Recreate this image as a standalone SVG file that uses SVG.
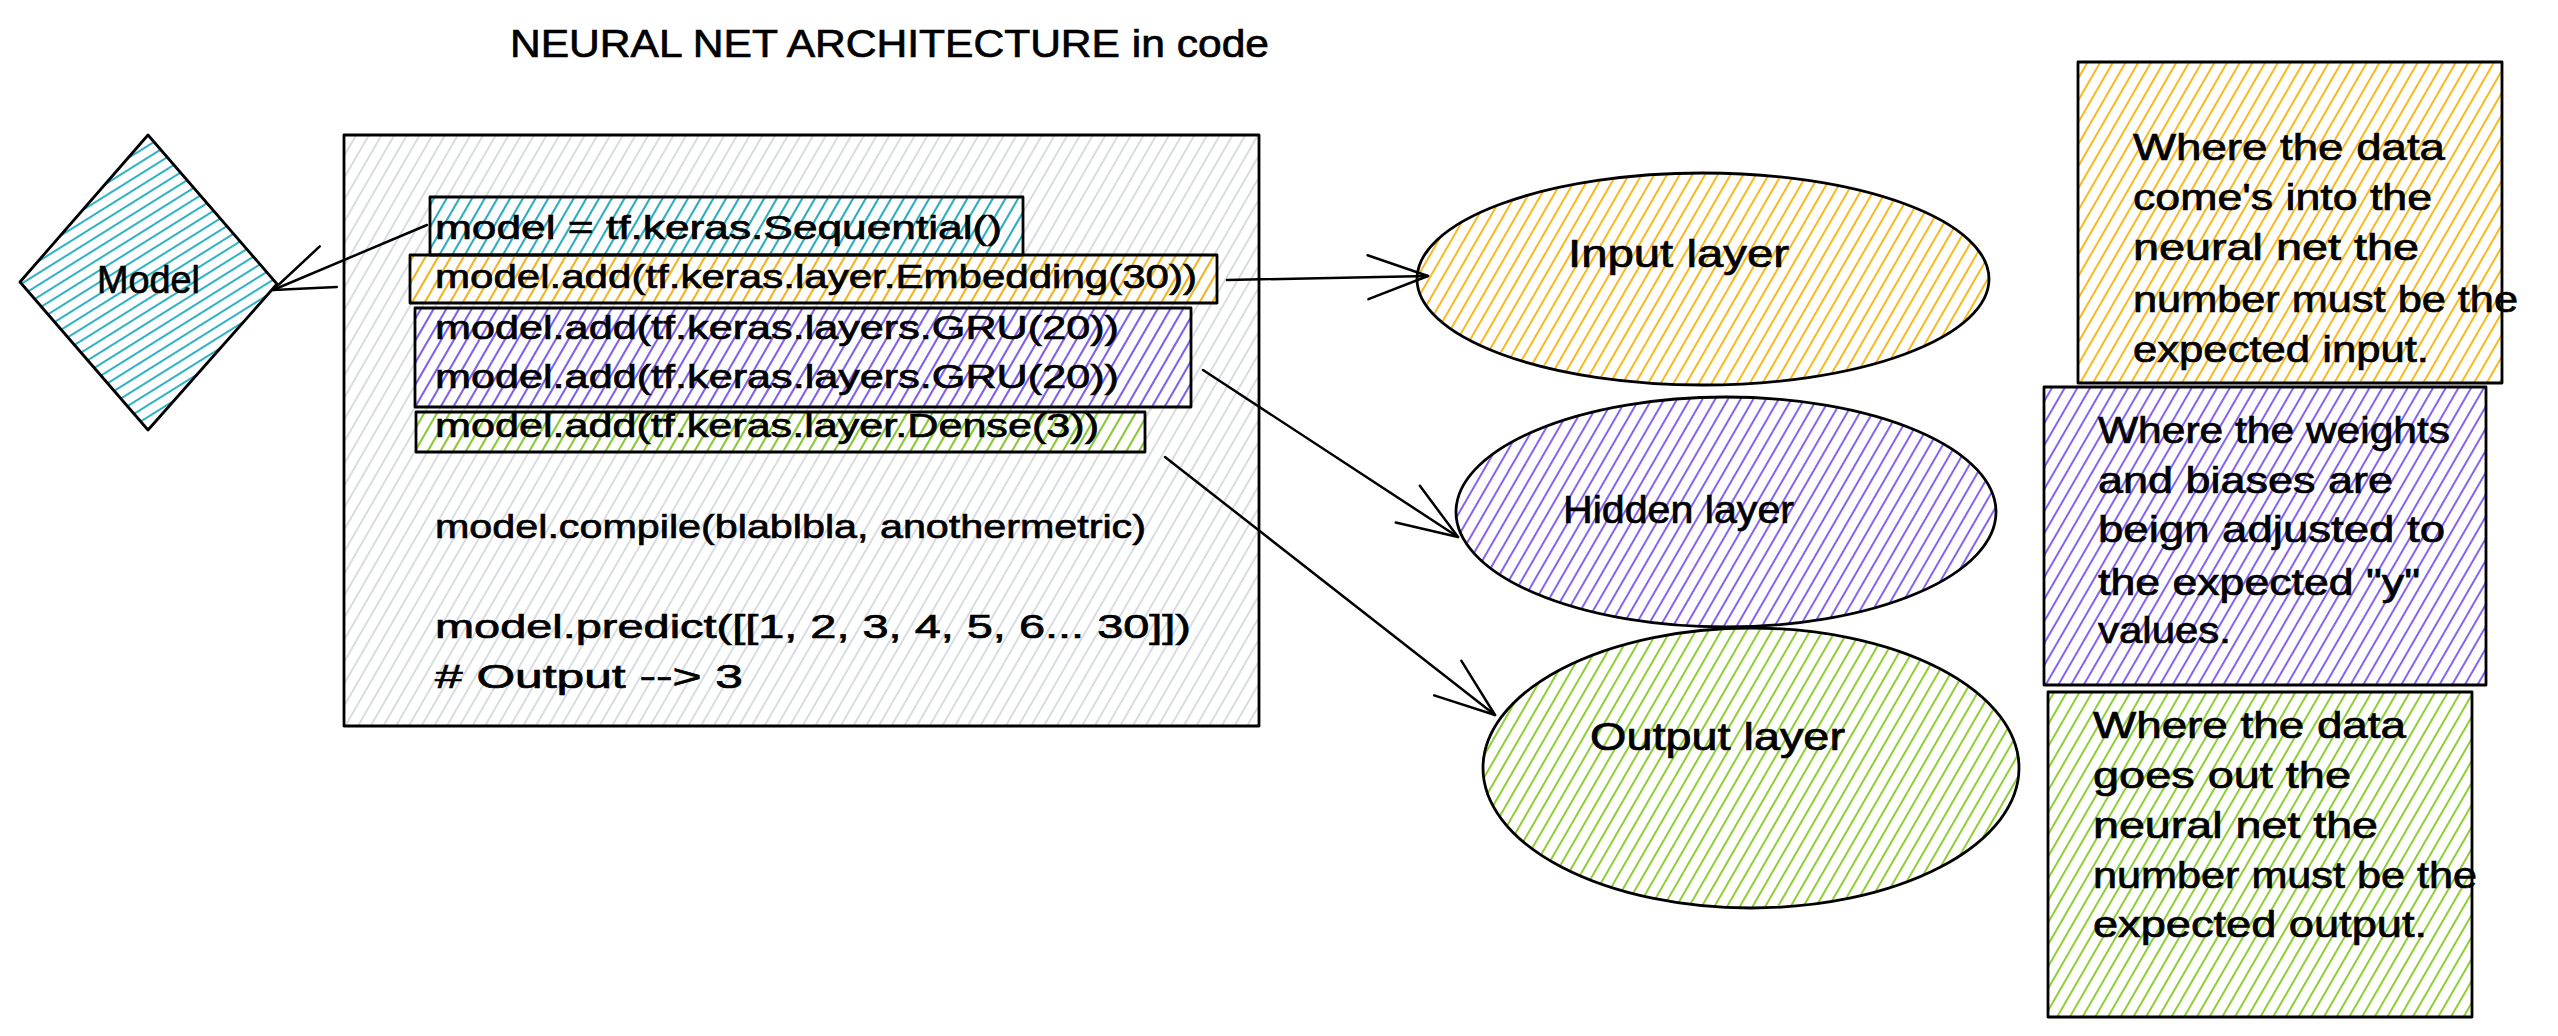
<svg xmlns="http://www.w3.org/2000/svg" width="2558" height="1036" viewBox="0 0 2558 1036">
<style>
.o{stroke:#000;stroke-width:2.8;stroke-linejoin:round;}
.t{font-family:"Liberation Sans","DejaVu Sans",sans-serif;fill:#000;stroke:#000;stroke-width:0.7;}
.code{font-size:34px;}
.note{font-size:36px;}
.lbl{font-size:38px;}
.ttl{font-size:38px;}
.c{stroke:#000;stroke-width:2.5;fill:none;stroke-linecap:round;}
</style>
<defs>
<pattern id="hGray" width="11" height="11" patternUnits="userSpaceOnUse" patternTransform="rotate(30)"><line x1="2" y1="0" x2="2" y2="11" stroke="#ced4da" stroke-width="1.6"/></pattern>
<pattern id="hCyan" width="11" height="11" patternUnits="userSpaceOnUse" patternTransform="rotate(30)"><line x1="2" y1="0" x2="2" y2="11" stroke="#15aabf" stroke-width="1.8"/></pattern>
<pattern id="hCyanD" width="10" height="10" patternUnits="userSpaceOnUse" patternTransform="rotate(58)"><line x1="2" y1="0" x2="2" y2="10" stroke="#15aabf" stroke-width="1.8"/></pattern>
<pattern id="hOrange" width="11" height="11" patternUnits="userSpaceOnUse" patternTransform="rotate(30)"><line x1="2" y1="0" x2="2" y2="11" stroke="#fab005" stroke-width="1.8"/></pattern>
<pattern id="hViolet" width="11" height="11" patternUnits="userSpaceOnUse" patternTransform="rotate(30)"><line x1="2" y1="0" x2="2" y2="11" stroke="#7950f2" stroke-width="1.8"/></pattern>
<pattern id="hGreen" width="11" height="11" patternUnits="userSpaceOnUse" patternTransform="rotate(30)"><line x1="2" y1="0" x2="2" y2="11" stroke="#82c91e" stroke-width="1.8"/></pattern>
<marker id="ah" markerUnits="userSpaceOnUse" viewBox="0 0 80 60" markerWidth="80" markerHeight="60" refX="70" refY="30" orient="auto" overflow="visible"><path d="M10,8 L70,30 L10,52" fill="none" stroke="#000" stroke-width="2.5" stroke-linecap="round" stroke-linejoin="round"/></marker>
</defs>
<rect width="2558" height="1036" fill="#fff"/>

<g id="title">
<text class="t ttl" x="510" y="57" textLength="759" lengthAdjust="spacingAndGlyphs">NEURAL NET ARCHITECTURE in code</text>
</g>

<g id="model">
<polygon class="o" points="148,135 277,284 148,430 20,282" fill="url(#hCyanD)"/>
<text class="t lbl" x="97" y="293" textLength="103" lengthAdjust="spacingAndGlyphs">Model</text>
</g>

<g id="code-box">
<rect class="o" x="344" y="135" width="915" height="591" fill="url(#hGray)"/>
<text class="t code" x="435" y="538" textLength="711" lengthAdjust="spacingAndGlyphs">model.compile(blablbla, anothermetric)</text>
<text class="t code" x="435" y="638" textLength="756" lengthAdjust="spacingAndGlyphs">model.predict([[1, 2, 3, 4, 5, 6... 30]])</text>
<text class="t code" x="435" y="688" textLength="308" lengthAdjust="spacingAndGlyphs"># Output --&gt; 3</text>
</g>

<g id="code-sequential">
<rect class="o" x="430" y="197" width="593" height="58" fill="url(#hCyan)"/>
<text class="t code" x="435" y="239" textLength="567" lengthAdjust="spacingAndGlyphs">model = tf.keras.Sequential()</text>
</g>

<g id="code-embedding">
<rect class="o" x="410" y="255" width="807" height="48" fill="url(#hOrange)"/>
<text class="t code" x="435" y="288" textLength="762" lengthAdjust="spacingAndGlyphs">model.add(tf.keras.layer.Embedding(30))</text>
</g>

<g id="code-gru">
<rect class="o" x="415" y="308" width="776" height="99" fill="url(#hViolet)"/>
<text class="t code" x="435" y="339" textLength="684" lengthAdjust="spacingAndGlyphs">model.add(tf.keras.layers.GRU(20))</text>
<text class="t code" x="435" y="388" textLength="684" lengthAdjust="spacingAndGlyphs">model.add(tf.keras.layers.GRU(20))</text>
</g>

<g id="code-dense">
<rect class="o" x="416" y="412" width="729" height="40" fill="url(#hGreen)"/>
<text class="t code" x="435" y="437" textLength="664" lengthAdjust="spacingAndGlyphs">model.add(tf.keras.layer.Dense(3))</text>
</g>

<g id="input-layer">
<ellipse class="o" cx="1703" cy="279" rx="286" ry="106" fill="url(#hOrange)"/>
<text class="t lbl" x="1568" y="267" textLength="221" lengthAdjust="spacingAndGlyphs">Input layer</text>
</g>

<g id="hidden-layer">
<ellipse class="o" cx="1726" cy="512" rx="270" ry="115" fill="url(#hViolet)"/>
<text class="t lbl" x="1563" y="523" textLength="231" lengthAdjust="spacingAndGlyphs">Hidden layer</text>
</g>

<g id="output-layer">
<ellipse class="o" cx="1751" cy="768" rx="268" ry="140" fill="url(#hGreen)"/>
<text class="t lbl" x="1590" y="750" textLength="255" lengthAdjust="spacingAndGlyphs">Output layer</text>
</g>

<g id="note-input">
<rect class="o" x="2078" y="62" width="424" height="321" fill="url(#hOrange)"/>
<text class="t note" x="2133" y="160" textLength="312" lengthAdjust="spacingAndGlyphs">Where the data</text>
<text class="t note" x="2133" y="210" textLength="299" lengthAdjust="spacingAndGlyphs">come's into the</text>
<text class="t note" x="2133" y="260" textLength="286" lengthAdjust="spacingAndGlyphs">neural net the</text>
<text class="t note" x="2133" y="312" textLength="385" lengthAdjust="spacingAndGlyphs">number must be the</text>
<text class="t note" x="2133" y="362" textLength="296" lengthAdjust="spacingAndGlyphs">expected input.</text>
</g>

<g id="note-hidden">
<rect class="o" x="2044" y="387" width="442" height="298" fill="url(#hViolet)"/>
<text class="t note" x="2098" y="443" textLength="352" lengthAdjust="spacingAndGlyphs">Where the weights</text>
<text class="t note" x="2098" y="493" textLength="295" lengthAdjust="spacingAndGlyphs">and biases are</text>
<text class="t note" x="2098" y="542" textLength="347" lengthAdjust="spacingAndGlyphs">beign adjusted to</text>
<text class="t note" x="2098" y="595" textLength="322" lengthAdjust="spacingAndGlyphs">the expected "y"</text>
<text class="t note" x="2098" y="643" textLength="133" lengthAdjust="spacingAndGlyphs">values.</text>
</g>

<g id="note-output">
<rect class="o" x="2048" y="692" width="424" height="325" fill="url(#hGreen)"/>
<text class="t note" x="2093" y="738" textLength="313" lengthAdjust="spacingAndGlyphs">Where the data</text>
<text class="t note" x="2093" y="788" textLength="258" lengthAdjust="spacingAndGlyphs">goes out the</text>
<text class="t note" x="2093" y="838" textLength="285" lengthAdjust="spacingAndGlyphs">neural net the</text>
<text class="t note" x="2093" y="888" textLength="384" lengthAdjust="spacingAndGlyphs">number must be the</text>
<text class="t note" x="2093" y="937" textLength="334" lengthAdjust="spacingAndGlyphs">expected output.</text>
</g>

<g id="connectors">
<line class="c" x1="427" y1="225" x2="273" y2="290" marker-end="url(#ah)"/>
<line class="c" x1="1227" y1="280" x2="1428" y2="276" marker-end="url(#ah)"/>
<line class="c" x1="1203" y1="370" x2="1458" y2="537" marker-end="url(#ah)"/>
<line class="c" x1="1165" y1="457" x2="1495" y2="715" marker-end="url(#ah)"/>
</g>
</svg>
